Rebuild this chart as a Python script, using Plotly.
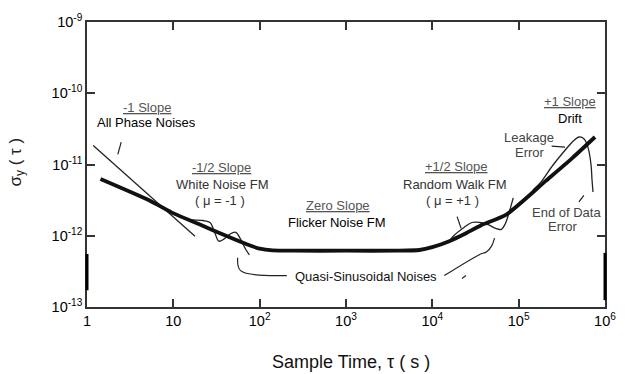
import numpy as np
import plotly.graph_objects as go

# ---- data (log10 values) ----
# thick composite sigma-tau curve
main_log_tau = [0.156, 0.718, 1.003, 1.288, 1.631, 1.85, 2.0, 2.15, 2.4, 3.0, 3.6, 3.85, 4.0, 4.196, 4.367, 4.561, 4.857, 5.314, 5.621, 5.884]
main_log_sig = [-11.203, -11.501, -11.686, -11.833, -12.012, -12.12, -12.18, -12.205, -12.21, -12.21, -12.21, -12.20, -12.16, -12.076, -11.979, -11.855, -11.703, -11.23, -10.91, -10.614]

# -1 slope (phase noise) line
pm_log_tau = [0.072, 1.251]
pm_log_sig = [-10.734, -12.007]

# quasi-sinusoidal wiggle, left
qsl_log_tau = [1.0, 1.174, 1.345, 1.425, 1.482, 1.528, 1.585, 1.653, 1.722, 1.779, 1.836, 1.881]
qsl_log_sig = [-11.686, -11.77, -11.786, -11.814, -11.966, -12.076, -12.048, -11.979, -11.952, -12.048, -12.186, -12.269]

# quasi-sinusoidal wiggle, right
qsr_log_tau = [4.196, 4.253, 4.367, 4.458, 4.550, 4.641, 4.732, 4.800, 4.846, 4.892, 4.937]
qsr_log_sig = [-12.076, -11.993, -11.883, -11.814, -11.814, -11.841, -11.897, -11.910, -11.828, -11.662, -11.469]

# leakage / end-of-data error curve
lk_log_tau = [5.165, 5.257, 5.394, 5.542, 5.633, 5.701, 5.758, 5.804, 5.838, 5.850, 5.861]
lk_log_sig = [-11.359, -11.248, -11.014, -10.793, -10.669, -10.614, -10.641, -10.766, -11.000, -11.221, -11.386]

# leader lines / pointers
pointers = [
    ([0.357, 0.396], [-10.858, -10.687]),                      # -1 slope pointer
    ([1.745, 1.779, 2.315], [-12.310, -12.490, -12.559]),      # quasi-sinusoidal left leader
    ([4.139, 4.538, 4.629, 4.686, 4.721], [-12.559, -12.269, -12.223, -12.145, -12.034]),  # right leader
    ([4.287, 4.333], [-11.731, -11.897]),                      # mu=+1 pointer
    ([4.344, 4.390], [-12.600, -12.559]),                      # small mark
    ([5.382, 5.537], [-10.742, -10.756]),                      # leakage error pointer
    ([5.698, 5.755], [-11.524, -11.432]),                      # end of data pointer
]

x_tickvals = [1, 10, 1e2, 1e3, 1e4, 1e5, 1e6]
x_ticktext = ["1", "10", "10<sup>2</sup>", "10<sup>3</sup>", "10<sup>4</sup>", "10<sup>5</sup>", "10<sup>6</sup>"]
y_tickvals = [1e-13, 1e-12, 1e-11, 1e-10, 1e-9]
y_ticktext = ["10<sup>-13</sup>", "10<sup>-12</sup>", "10<sup>-11</sup>", "10<sup>-10</sup>", "10<sup>-9</sup>"]

# labels: (text, log tau, log sigma, color)
labels = [
    ("<u>-1 Slope</u>", 0.696, -10.195, "#555"),
    ("All Phase Noises", 0.690, -10.405, "#000"),
    ("<u>-1/2 Slope</u>", 1.563, -11.040, "#555"),
    ("White Noise FM", 1.563, -11.275, "#333"),
    ("( μ = -1 )", 1.540, -11.501, "#333"),
    ("<u>Zero Slope</u>", 2.909, -11.580, "#555"),
    ("Flicker Noise FM", 2.892, -11.815, "#000"),
    ("Quasi-Sinusoidal Noises", 3.228, -12.572, "#111"),
    ("<u>+1/2 Slope</u>", 4.277, -11.026, "#555"),
    ("Random Walk FM", 4.266, -11.275, "#333"),
    ("( μ = +1 )", 4.232, -11.501, "#333"),
    ("<u>+1 Slope</u>", 5.589, -10.120, "#555"),
    ("Drift", 5.595, -10.358, "#000"),
    ("Leakage", 5.122, -10.618, "#444"),
    ("Error", 5.133, -10.834, "#444"),
    ("End of Data", 5.555, -11.672, "#444"),
    ("Error", 5.509, -11.869, "#444"),
]

FONT = "Liberation Sans, Arial, Helvetica, sans-serif"

def p(v):
    return 10 ** np.array(v, dtype=float)

fig = go.Figure()

thin = dict(color="#222", width=1.3)
fig.add_trace(go.Scatter(x=p(pm_log_tau), y=p(pm_log_sig), mode="lines", line=thin))
fig.add_trace(go.Scatter(x=p(qsl_log_tau), y=p(qsl_log_sig), mode="lines", line=dict(thin, shape="spline")))
fig.add_trace(go.Scatter(x=p(qsr_log_tau), y=p(qsr_log_sig), mode="lines", line=dict(thin, shape="spline")))
fig.add_trace(go.Scatter(x=p(lk_log_tau), y=p(lk_log_sig), mode="lines", line=dict(thin, shape="spline")))
for xs, ys in pointers:
    fig.add_trace(go.Scatter(x=p(xs), y=p(ys), mode="lines", line=dict(color="#222", width=1.2, shape="spline")))
fig.add_trace(go.Scatter(x=p(main_log_tau), y=p(main_log_sig), mode="lines",
                         line=dict(color="#111", width=3.8, shape="spline", smoothing=0.6)))

annotations = []
for text, lx, ly, col in labels:
    annotations.append(dict(text=text, x=lx, y=ly, xref="x", yref="y", showarrow=False,
                            font=dict(family=FONT, size=13, color=col), xanchor="center", yanchor="middle"))
annotations.append(dict(text="Sample Time, τ ( s )", x=0.5095, y=-0.192, xref="paper", yref="paper",
                        showarrow=False, font=dict(family=FONT, size=18, color="#111"),
                        xanchor="center", yanchor="middle"))
annotations.append(dict(text="σ<sub>y</sub> ( τ )", x=-0.137, y=0.507, xref="paper", yref="paper",
                        showarrow=False, textangle=-90, font=dict(family=FONT, size=17, color="#222"),
                        xanchor="center", yanchor="middle"))

axis_common = dict(type="log", showgrid=False, zeroline=False, showline=True, linecolor="#333",
                   linewidth=1.5, mirror="ticks", ticks="inside", ticklen=8, tickwidth=1.5,
                   tickcolor="#333", tickfont=dict(family=FONT, size=14.5, color="#000"))

fig.update_layout(
    width=628, height=374,
    margin=dict(l=87, r=15, t=17, b=67),
    paper_bgcolor="white", plot_bgcolor="white",
    showlegend=False,
    xaxis=dict(axis_common, range=[0, 6], tickvals=x_tickvals, ticktext=x_ticktext),
    yaxis=dict(axis_common, range=[-13, -9], tickvals=y_tickvals, ticktext=y_ticktext, ticklabelstandoff=0),
    annotations=annotations,
    shapes=[
        dict(type="line", xref="paper", yref="paper", x0=0, x1=0, y0=0.0586, y1=0.186,
             line=dict(color="#000", width=3)),
        dict(type="line", xref="paper", yref="paper", x0=1, x1=1, y0=0.024, y1=0.19,
             line=dict(color="#000", width=3)),
    ],
)

fig.write_html("out.html")
